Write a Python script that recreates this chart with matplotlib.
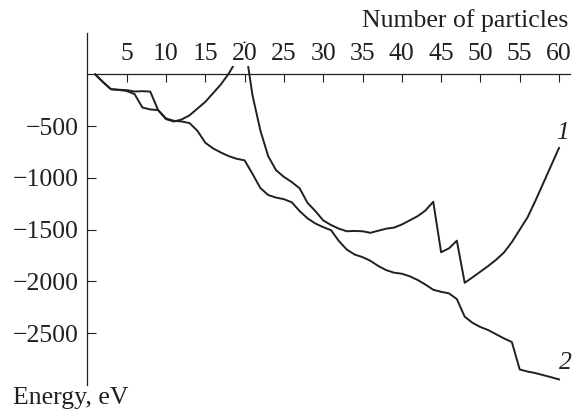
import matplotlib
matplotlib.use("Agg")
import matplotlib.pyplot as plt
import numpy as np

plt.rcParams["font.family"] = ["Liberation Serif", "DejaVu Serif"]

# number of particles in the cluster
n_particles = list(range(1, 61))

# curve 1
energy_1 = [
    0, -75, -143, -148, -152, -165, -162, -166, -345, -432,
    -455, -435, -395, -330, -265, -180, -95, 10, 140, 310,
    -200, -540, -790, -925, -990, -1040, -1100, -1240, -1320, -1410,
    -1455, -1490, -1515, -1512, -1515, -1530, -1510, -1490, -1480, -1450,
    -1410, -1370, -1315, -1230, -1718, -1680, -1606, -2013, -1960, -1905,
    -1850, -1790, -1720, -1620, -1500, -1380, -1220, -1050, -880, -710,
]

# curve 2
energy_2 = [
    0, -75, -143, -150, -160, -190, -320, -338, -345, -425,
    -448, -455, -470, -545, -660, -715, -755, -790, -815, -830,
    -960, -1097, -1165, -1190, -1205, -1235, -1320, -1390, -1440, -1475,
    -1505, -1610, -1692, -1740, -1765, -1800, -1850, -1890, -1915, -1925,
    -1950, -1985, -2030, -2080, -2100, -2115, -2170, -2340, -2400, -2440,
    -2470, -2510, -2550, -2585, -2850, -2870, -2885, -2905, -2925, -2946,
]

x_ticks = [5, 10, 15, 20, 25, 30, 35, 40, 45, 50, 55, 60]
y_ticks = [-500, -1000, -1500, -2000, -2500]

ink = "#231f20"
fs = 18.5

fig = plt.figure(figsize=(5.78, 4.09), dpi=100)
ax = fig.add_axes([0.1512, 0.0587, 0.835, 0.8606])

ax.plot(n_particles, energy_1, color=ink, lw=1.4, solid_joinstyle="round")
ax.plot(n_particles, energy_2, color=ink, lw=1.4, solid_joinstyle="round")

ax.set_xlim(0, 61.4)
ax.set_ylim(-3000, 400)

# x axis runs along E = 0 with labels above it
ax.spines["right"].set_visible(False)
ax.spines["bottom"].set_visible(False)
ax.spines["top"].set_position(("data", 0))
ax.spines["top"].set_linewidth(0.9)
ax.spines["left"].set_linewidth(0.9)
ax.spines["top"].set_color(ink)
ax.spines["left"].set_color(ink)
ax.xaxis.tick_top()
ax.set_xticks(x_ticks)
ax.set_yticks(y_ticks)
ax.tick_params(axis="x", direction="in", length=5.5, width=0.8, pad=6.5,
               labelsize=fs, colors=ink)
ax.tick_params(axis="y", direction="in", length=6.5, width=0.8, pad=6,
               labelsize=fs, colors=ink)

# tick labels sit on top of the curves
ax.set_axisbelow(False)
for tick in ax.xaxis.get_major_ticks():
    tick.label2.set_bbox(dict(facecolor="white", edgecolor="none", pad=0.5))

fig.text(0.983, 0.935, "Number of particles", ha="right", va="baseline",
         fontsize=fs, color=ink)
fig.text(0.022, 0.012, "Energy, eV", ha="left", va="baseline",
         fontsize=fs, color=ink)

ax.text(60.5, -565, "1", style="italic", ha="center", va="center",
        fontsize=fs, color=ink)
ax.text(60.8, -2785, "2", style="italic", ha="center", va="center",
        fontsize=fs, color=ink)

fig.savefig("out.png", dpi=100)
